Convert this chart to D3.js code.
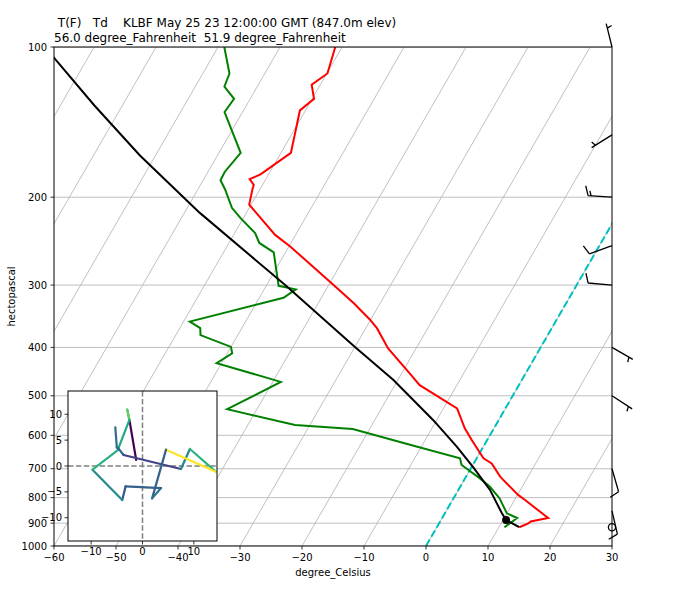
<!DOCTYPE html>
<html>
<head>
<style>
  body { margin: 0; background: #fff; }
  text { font-family: "DejaVu Sans", sans-serif; fill: #000; }
</style>
</head>
<body>
<script src="https://d3js.org/d3.v7.min.js"></script>
<script>
// sounding, KLBF May 25 23 12Z
var tempPressure = [917, 901, 893, 879, 809, 790, 737, 726, 683, 667, 613, 581, 530, 476, 451, 402, 366, 352, 326, 302, 251, 238, 207, 193, 189, 184, 180, 163, 134, 127, 119, 113, 100];
var temperature  = [13.3, 14.4, 14.6, 17.1, 11.7, 10.1, 6.3, 5.5, 2.9, 1.1, -2.5, -4.7, -7.8, -16.0, -18.7, -24.5, -28.2, -30.1, -34.3, -38.8, -49.8, -53.3, -60.3, -61.2, -61.4, -62.6, -61.3, -58.4, -60.9, -59.7, -61.4, -59.9, -61.1];

var dewPressure = [917, 879, 860, 802, 761, 732, 688, 667, 627, 583, 572, 532, 469, 430, 411, 399, 378, 366, 355, 318, 306, 301, 258, 247, 236, 220, 210, 193, 185, 178, 163, 135, 127, 120, 113, 100];
var dewpoint    = [10.9, 12.1, 10.0, 7.4, 4.8, 2.4, -1.8, -2.7, -12.0, -22.7, -32.4, -44.8, -38.7, -50.8, -49.2, -50.0, -56.0, -56.7, -59.0, -46.1, -44.9, -48.0, -51.9, -55.1, -56.7, -60.5, -62.8, -65.6, -67.2, -67.3, -66.5, -72.9, -72.6, -75.3, -75.7, -79.0];

var parcelPressure = [917, 887, 860, 772, 694, 632, 559, 465, 399, 301, 215, 165, 131, 105, 100];
var parcelTemp     = [13.3, 10.5, 9.2, 5.1, 0.2, -4.3, -10.6, -20.7, -30.0, -46.8, -67.5, -82.5, -94.5, -105.5, -108];

var lclPressure = 887, lclTemp = 10.5;

var barbPressure  = [917, 850, 700, 500, 400, 300, 250, 200, 150, 100];
var barbDirection = [0, 167, 164, 123, 120, 275, 250, 274, 238, 346];
var barbSpeed     = [0, 10, 10, 5, 5, 10, 10, 15, 5, 5];

var hodoU = [-1.23, -2.52, -2.97, -2.55, -4.7, -3.68, 7.48, 9.23, 14.26, 4.58, 1.87, 3.61, -3.29, -3.94, -9.74, -4.6, -5.0, -5.29];
var hodoV = [1.16, 8.77, 10.9, 8.9, 3.4, 2.13, -0.58, 3.29, -1.1, 3.16, -6.26, -4.26, -3.94, -6.58, -0.71, 3.2, 3.6, 7.48];

var pressureTicks = [100, 200, 300, 400, 500, 600, 700, 800, 900, 1000];
var tempTicks = [-60, -50, -40, -30, -20, -10, 0, 10, 20, 30];
var isotherms = d3.range(-110, 31, 10);
var hodoXTicks = [-10, 0, 10];
var hodoYTicks = [-10, -5, 0, 5, 10];

var title1 = " T(F)   Td    KLBF May 25 23 12:00:00 GMT (847.0m elev)";
var title2 = "56.0 degree_Fahrenheit  51.9 degree_Fahrenheit";

var width = 674, height = 593;
var pl = 54, pr = 612, pt = 47, pb = 546;
var skew = Math.tan(30 * Math.PI / 180);

var svg = d3.select("body").append("svg")
    .attr("width", width)
    .attr("height", height);

var x = d3.scaleLinear().domain([-60, 30]).range([pl, pr]);
var y = d3.scaleLog().domain([1000, 100]).range([pb, pt]);

function sx(t, p) { return x(t) + (pb - y(p)) * skew; }
function minus(d) { return d < 0 ? "\u2212" + (-d) : "" + d; }

svg.append("clipPath").attr("id", "plot")
  .append("rect")
    .attr("x", pl).attr("y", pt)
    .attr("width", pr - pl).attr("height", pb - pt);

var plot = svg.append("g").attr("clip-path", "url(#plot)");

// grid
plot.selectAll(".hgrid").data(pressureTicks).enter().append("line")
    .attr("x1", pl).attr("x2", pr)
    .attr("y1", d => y(d)).attr("y2", d => y(d))
    .attr("stroke", "#b0b0b0").attr("stroke-width", 0.8);

plot.selectAll(".iso").data(isotherms).enter().append("line")
    .attr("x1", d => sx(d, 1000)).attr("y1", y(1000))
    .attr("x2", d => sx(d, 100)).attr("y2", y(100))
    .attr("stroke", "#b0b0b0").attr("stroke-width", 0.8);

// 0 degree isotherm
plot.append("line")
    .attr("x1", sx(0, 1000)).attr("y1", y(1000))
    .attr("x2", sx(0, 100)).attr("y2", y(100))
    .attr("stroke", "#00bfbf").attr("stroke-width", 2)
    .attr("stroke-dasharray", "7.4,3.2");

var line = d3.line().x(d => sx(d[1], d[0])).y(d => y(d[0]));

plot.append("path")
    .attr("d", line(d3.zip(tempPressure, temperature)))
    .attr("fill", "none").attr("stroke", "red").attr("stroke-width", 2);

plot.append("path")
    .attr("d", line(d3.zip(dewPressure, dewpoint)))
    .attr("fill", "none").attr("stroke", "green").attr("stroke-width", 2);

plot.append("path")
    .attr("d", line(d3.zip(parcelPressure, parcelTemp)))
    .attr("fill", "none").attr("stroke", "black").attr("stroke-width", 2);

plot.append("circle")
    .attr("cx", sx(lclTemp, lclPressure)).attr("cy", y(lclPressure))
    .attr("r", 4).attr("fill", "black");

// frame + axes
svg.append("rect")
    .attr("x", pl).attr("y", pt)
    .attr("width", pr - pl).attr("height", pb - pt)
    .attr("fill", "none").attr("stroke", "#000").attr("stroke-width", 1);

var yAxis = svg.append("g");
yAxis.selectAll("line").data(pressureTicks).enter().append("line")
    .attr("x1", pl - 3.5).attr("x2", pl)
    .attr("y1", d => y(d)).attr("y2", d => y(d))
    .attr("stroke", "#000").attr("stroke-width", 0.8);
yAxis.selectAll("text").data(pressureTicks).enter().append("text")
    .attr("x", pl - 7).attr("y", d => y(d))
    .attr("dy", "0.35em").attr("text-anchor", "end")
    .style("font-size", "10px").text(d => d);

var xAxis = svg.append("g");
xAxis.selectAll("line").data(tempTicks).enter().append("line")
    .attr("x1", d => x(d)).attr("x2", d => x(d))
    .attr("y1", pb).attr("y2", pb + 3.5)
    .attr("stroke", "#000").attr("stroke-width", 0.8);
xAxis.selectAll("text").data(tempTicks).enter().append("text")
    .attr("x", d => x(d)).attr("y", pb + 7)
    .attr("dy", "0.76em").attr("text-anchor", "middle")
    .style("font-size", "10px").text(minus);

svg.append("text")
    .attr("x", (pl + pr) / 2).attr("y", 576)
    .attr("text-anchor", "middle").style("font-size", "10px")
    .text("degree_Celsius");

svg.append("text")
    .attr("transform", "translate(15," + ((pt + pb) / 2) + ") rotate(-90)")
    .attr("text-anchor", "middle").style("font-size", "10px")
    .text("hectopascal");

svg.append("text").attr("x", pl).attr("y", 26.5)
    .attr("xml:space", "preserve").style("white-space", "pre")
    .style("font-size", "12px").text(title1);
svg.append("text").attr("x", pl).attr("y", 41.5)
    .attr("xml:space", "preserve").style("white-space", "pre")
    .style("font-size", "12px").text(title2);

// wind barbs
var L = 24;
function barb(g, bx, by, dir, spd) {
  if (spd < 2.5) {
    g.append("circle").attr("cx", bx).attr("cy", by).attr("r", 0.15 * L)
      .attr("fill", "none").attr("stroke", "#000").attr("stroke-width", 1.3);
    return;
  }
  var r = dir * Math.PI / 180;
  var d = [Math.sin(r), -Math.cos(r)], n = [-d[1], d[0]];
  var s = Math.round(spd / 5) * 5;
  var full = Math.floor(s / 10), half = (s % 10) >= 5;
  var path = "M" + bx + "," + by + "L" + (bx + d[0] * L) + "," + (by + d[1] * L);
  var off = L, sp = 0.125 * L;
  for (var i = 0; i < full; i++) {
    var px = bx + d[0] * off, py = by + d[1] * off;
    path += "M" + px + "," + py + "L" + (px + n[0] * 0.4 * L + d[0] * 0.125 * L) + "," + (py + n[1] * 0.4 * L + d[1] * 0.125 * L);
    off -= sp;
  }
  if (half) {
    if (full === 0) off = L - 1.5 * sp;
    var qx = bx + d[0] * off, qy = by + d[1] * off;
    path += "M" + qx + "," + qy + "L" + (qx + n[0] * 0.2 * L + d[0] * 0.0625 * L) + "," + (qy + n[1] * 0.2 * L + d[1] * 0.0625 * L);
  }
  g.append("path").attr("d", path).attr("fill", "none")
    .attr("stroke", "#000").attr("stroke-width", 1.3);
}
var barbs = svg.append("g");
barbPressure.forEach(function(p, i) {
  barb(barbs, pr, y(p), barbDirection[i], barbSpeed[i]);
});

// hodograph inset
var hl = 68, hr = 217, ht = 391, hb = 541, hmax = 14.5;
var hx = d3.scaleLinear().domain([-hmax, hmax]).range([hl, hr]);
var hy = d3.scaleLinear().domain([-hmax, hmax]).range([hb, ht]);
var hod = svg.append("g");
hod.append("rect").attr("x", hl).attr("y", ht)
    .attr("width", hr - hl).attr("height", hb - ht).attr("fill", "#fff");
hod.append("clipPath").attr("id", "hodo").append("rect")
    .attr("x", hl).attr("y", ht).attr("width", hr - hl).attr("height", hb - ht);
var hin = hod.append("g").attr("clip-path", "url(#hodo)");
hin.append("line").attr("x1", hx(0)).attr("x2", hx(0)).attr("y1", ht).attr("y2", hb)
    .attr("stroke", "#808080").attr("stroke-width", 1.5).attr("stroke-dasharray", "5.5,2.4");
hin.append("line").attr("x1", hl).attr("x2", hr).attr("y1", hy(0)).attr("y2", hy(0))
    .attr("stroke", "#808080").attr("stroke-width", 1.5).attr("stroke-dasharray", "5.5,2.4");

var speeds = hodoU.map((u, i) => Math.sqrt(u * u + hodoV[i] * hodoV[i]));
var color = d3.scaleSequential(d3.interpolateViridis).domain(d3.extent(speeds));
var segs = d3.range(hodoU.length - 1);
hin.selectAll(".seg").data(segs).enter().append("line")
    .attr("x1", i => hx(hodoU[i])).attr("y1", i => hy(hodoV[i]))
    .attr("x2", i => hx(hodoU[i + 1])).attr("y2", i => hy(hodoV[i + 1]))
    .attr("stroke", i => color(speeds[i])).attr("stroke-width", 2.2)
    .attr("stroke-linecap", "round");

hod.append("rect").attr("x", hl).attr("y", ht)
    .attr("width", hr - hl).attr("height", hb - ht)
    .attr("fill", "none").attr("stroke", "#000").attr("stroke-width", 1);

hod.selectAll(".hyt").data(hodoYTicks).enter().append("line")
    .attr("x1", hl - 3.5).attr("x2", hl).attr("y1", d => hy(d)).attr("y2", d => hy(d))
    .attr("stroke", "#000").attr("stroke-width", 0.8);
hod.selectAll(".hyl").data(hodoYTicks).enter().append("text")
    .attr("x", hl - 6).attr("y", d => hy(d)).attr("dy", "0.35em")
    .attr("text-anchor", "end").style("font-size", "10px")
    .text(minus);
hod.selectAll(".hxt").data(hodoXTicks).enter().append("line")
    .attr("x1", d => hx(d)).attr("x2", d => hx(d)).attr("y1", hb).attr("y2", hb + 3.5)
    .attr("stroke", "#000").attr("stroke-width", 0.8);
hod.selectAll(".hxl").data(hodoXTicks).enter().append("text")
    .attr("x", d => hx(d)).attr("y", hb + 6).attr("dy", "0.76em")
    .attr("text-anchor", "middle").style("font-size", "10px")
    .text(minus);
</script>
</body>
</html>
